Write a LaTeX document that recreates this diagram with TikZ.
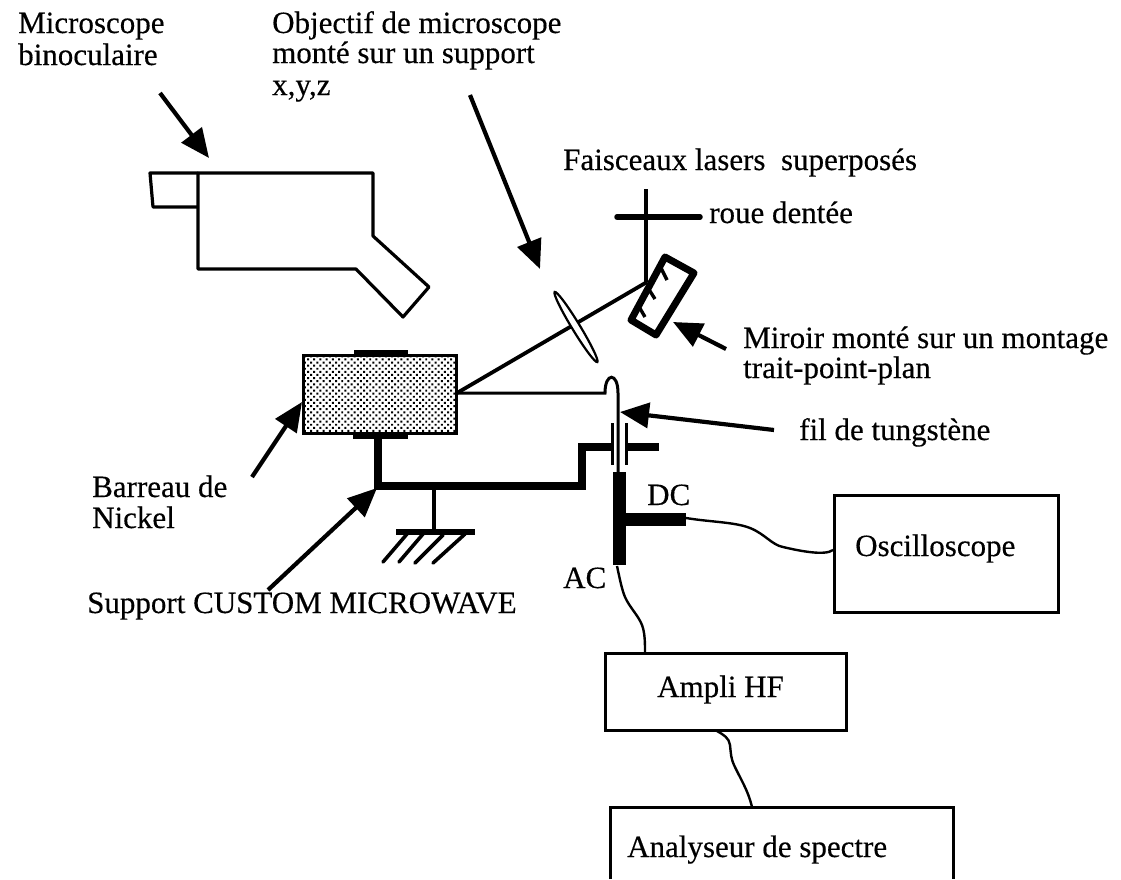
\documentclass[tikz,border=0pt]{standalone}
\usepackage{fontspec}
\setmainfont{Liberation Serif}[FakeBold=0.35]
\usetikzlibrary{arrows.meta,patterns.meta}
\tikzset{
  lbl/.style={anchor=base west,inner sep=0pt,font=\fontsize{31}{31}\selectfont},
  ptr/.style={line width=4.2pt,-{Triangle[length=29pt,width=25pt]}},
  outline/.style={line width=3.2pt,line join=round},
  beam/.style={line width=3.4pt},
  thin wire/.style={line width=2.4pt},
  bus/.style={line width=7.5pt,line join=miter},
  fat/.style={line width=13pt},
  devbox/.style={draw,line width=3pt,inner sep=0pt},
}
\begin{document}
\begin{tikzpicture}[x=1pt,y=-1pt]
\useasboundingbox (0,0) rectangle (1121,879);
% labels
\node[lbl] (t1) at (18,33) {Microscope};
\node[lbl] (t2) at (18,65) {binoculaire};
\node[lbl] (t3) at (272,33) {Objectif de microscope};
\node[lbl] (t4) at (272,63) {monté sur un support};
\node[lbl] (t5) at (272,95) {x,y,z};
\node[lbl] (t6) at (563,170) {Faisceaux lasers\ \ superposés};
\node[lbl] (t7) at (709,223) {roue dentée};
\node[lbl] (t8) at (743,348) {Miroir monté sur un montage};
\node[lbl] (t9) at (743,378) {trait-point-plan};
\node[lbl] (t10) at (799,440) {fil de tungstène};
\node[lbl] (t11) at (92,497) {Barreau de};
\node[lbl] (t12) at (92,528) {Nickel};
\node[lbl] (t13) at (87,613) {Support CUSTOM MICROWAVE};
\node[lbl] (t14) at (647,505) {DC};
\node[lbl] (t15) at (563,588) {AC};
% microscope
\draw[outline] (198,173) -- (373,173) -- (373,236) -- (429,287) -- (403,317) -- (356,269) -- (198,269) -- cycle;
\draw[outline] (198,173) -- (150,173) -- (153,207) -- (198,207);
% beams
\draw[line width=4.5pt] (646,189) -- (646,282);
\draw[line width=5.5pt,line cap=round] (617,217) -- (700,217);
\coordinate (mirrorhit) at (647,282);
\coordinate (barcorner) at (457,393);
\draw[line width=3.8pt] (barcorner) -- (mirrorhit);
% lens
\draw[line width=2.2pt,fill=white,rotate around={-58.7:(576,327)}] (576,327) ellipse (41 and 4);
% mirror
\draw[line width=7pt,line join=round] (665,257) -- (694,273) -- (656,335) -- (631,320) -- cycle;
\draw[line width=3.4pt] (660,266) -- (667,280) (648,288) -- (655,299) (638,305) -- (645,317);
% nickel bar
\node (bar) at (379.5,394) [minimum width=153pt,minimum height=78pt,draw,line width=3pt,inner sep=0pt,pattern={Dots[radius=1.4pt,distance=4.4pt,angle=45]}] {};
\draw[line width=6pt] (354,353) -- (408,353);
\draw[line width=6pt] (353,436) -- (408,436);
% bus
\draw[bus] (378,436) -- (378,486);
\draw[bus] (374.25,486) -- (582,486) -- (582,447) -- (612,447);
\draw[bus] (626,447) -- (659,447);
\draw[line width=4.5pt] (434,486) -- (434,532);
\draw[line width=5.5pt] (396,532) -- (475,532);
\draw[line width=3.6pt,line cap=round] (407,534) -- (383,562) (423,534) -- (399,562) (443,535) -- (415,563) (465,534) -- (433,563);
% tungsten wire
\draw[line width=3pt] (barcorner) -- (605,393) .. controls (605,372) and (618,372) .. (618,393) -- (618,472);
\draw[line width=3pt] (612,423) -- (612,465) (626,423) -- (626,465);
% T
\draw[fat] (619,472) -- (619,565);
\draw[fat] (619,519) -- (686,519);
% boxes
\node[devbox,minimum width=224pt,minimum height=117pt] (osc) at (946,553.5) {};
\node[devbox,minimum width=241pt,minimum height=77pt] (amp) at (725.5,691.5) {};
\draw[line width=3pt] (610,879) -- (610,807) -- (953,807) -- (953,879);
\coordinate (anTop) at (752,807);
\node[lbl] (t16) at (855,556) {Oscilloscope};
\node[lbl] (t17) at (657,697) {Ampli HF};
\node[lbl] (t18) at (627,857) {Analyseur de spectre};
% wavy wires
\coordinate (dcEnd) at (686,518);
\coordinate (oscIn) at (833,550);
\draw[thin wire] (dcEnd) .. controls (710,522) and (735,522) .. (750,528) .. controls (765,534) and (772,545) .. (783,547) .. controls (800,551) and (825,556) .. (oscIn);
\coordinate (acEnd) at (617,566);
\coordinate (ampIn) at (645,653);
\draw[thin wire] (acEnd) .. controls (620,580) and (622,590) .. (625,597) .. controls (630,608) and (638,615) .. (642,625) .. controls (645,633) and (645,643) .. (ampIn);
\coordinate (ampOut) at (717,731);
\draw[thin wire] (ampOut) .. controls (724,735) and (729,738) .. (730,745) .. controls (731,755) and (731,758) .. (734,765) .. controls (740,778) and (748,790) .. (anTop);
% pointers
\coordinate (a1) at (160,93); \coordinate (b1) at (209,158);
\draw[ptr] (a1) -- (b1);
\coordinate (a2) at (470,95); \coordinate (b2) at (540,269);
\draw[ptr] (a2) -- (b2);
\coordinate (a3) at (726,349); \coordinate (b3) at (673,322);
\draw[ptr] (a3) -- (b3);
\coordinate (a4) at (774,430); \coordinate (b4) at (620,412);
\draw[ptr] (a4) -- (b4);
\coordinate (a5) at (252,477); \coordinate (b5) at (302,402);
\draw[ptr] (a5) -- (b5);
\coordinate (a6) at (268,590); \coordinate (b6) at (377,488);
\draw[ptr] (a6) -- (b6);
\end{tikzpicture}
\end{document}
